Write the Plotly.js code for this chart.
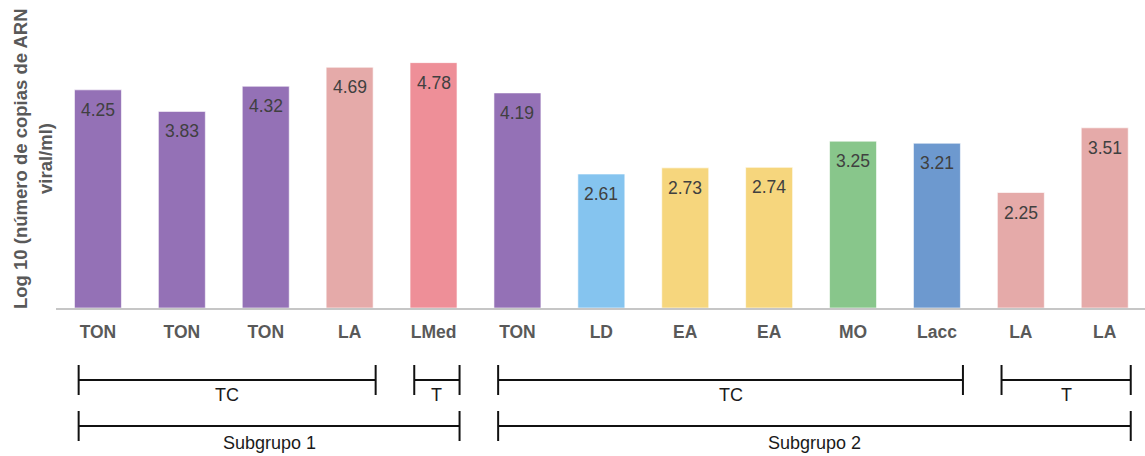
<!DOCTYPE html>
<html>
<head>
<meta charset="utf-8">
<script src="https://cdn.plot.ly/plotly-3.0.1.min.js"></script>
<style>html,body{margin:0;padding:0;background:#fff;}#chart{width:1145px;height:456px;}</style>
</head>
<body>
<div id="chart"></div>
<script>
// ---- data ----
const categories = ["TON","TON","TON","LA","LMed","TON","LD","EA","EA","MO","Lacc","LA","LA"];
const values = [4.25,3.83,4.32,4.69,4.78,4.19,2.61,2.73,2.74,3.25,3.21,2.25,3.51];
const barColors = ["#9471B6","#9471B6","#9471B6","#E5AAA9","#EE8F98","#9471B6","#85C4EF","#F6D67D","#F6D67D","#88C68B","#6D99CF","#E5AAA9","#E5AAA9"];
const yTitleLines = ["Log 10 (número de copias de ARN","viral/ml)"];
// brackets: label, first bar index, last bar index, row (0 = upper, 1 = lower)
const bracketLabels = ["TC","T","TC","T","Subgrupo 1","Subgrupo 2"];
const bracketStart = [0,4,5,11,0,5];
const bracketEnd = [3,4,10,12,4,12];
const bracketRow = [0,0,0,0,1,1];

// ---- layout helpers ----
const xIdx = categories.map((c,i)=>i);
const PH = 308; // plot height in px
const toPaper = py => (PH - py)/PH;
const rowLineY = [380, 426];
const rowLabelY = [395, 443];
const tickHalf = 15;
const FONT = "Liberation Sans, Arial, sans-serif";

const shapes = [];
const annotations = [];
bracketLabels.forEach((lab,k)=>{
  const x0 = bracketStart[k] - 0.23;
  const x1 = bracketEnd[k] + 0.31;
  const yl = rowLineY[bracketRow[k]];
  const ln = {color:"#111", width:2};
  shapes.push({type:"line", xref:"x", yref:"paper", x0:x0, x1:x1, y0:toPaper(yl), y1:toPaper(yl), line:ln});
  shapes.push({type:"line", xref:"x", yref:"paper", x0:x0, x1:x0, y0:toPaper(yl-tickHalf), y1:toPaper(yl+tickHalf), line:ln});
  shapes.push({type:"line", xref:"x", yref:"paper", x0:x1, x1:x1, y0:toPaper(yl-tickHalf), y1:toPaper(yl+tickHalf), line:ln});
  annotations.push({xref:"x", yref:"paper", x:(x0+x1)/2, y:toPaper(rowLabelY[bracketRow[k]]),
    text:lab, showarrow:false, xanchor:"center", yanchor:"middle",
    font:{family:FONT, size:18, color:"#1a1a1a"}});
});

// value labels inside top of bars
values.forEach((v,i)=>{
  annotations.push({xref:"x", yref:"y", x:xIdx[i], y:v, text:v.toFixed(2), showarrow:false,
    xanchor:"center", yanchor:"top", yshift:-8,
    font:{family:FONT, size:17.5, color:"#404040"}});
});

// y title (two lines)
const yTitleShift = [-36, -11];
yTitleLines.forEach((t,i)=>{
  annotations.push({xref:"paper", yref:"paper", x:0, y:0.5, xshift:yTitleShift[i], yshift:-5,
    text:"<b>"+t+"</b>", showarrow:false, textangle:-90, xanchor:"center", yanchor:"middle",
    font:{family:FONT, size:18.5, color:"#595959"}});
});

const trace = {
  type:"bar", x:xIdx, y:values, width:0.56,
  marker:{color:barColors, line:{color:"rgba(255,255,255,0.6)", width:1}},
  hoverinfo:"none"
};

const layout = {
  width:1145, height:456,
  margin:{l:56, r:0, t:0, b:148, pad:0},
  paper_bgcolor:"#fff", plot_bgcolor:"#fff",
  showlegend:false,
  xaxis:{range:[-0.5,12.48], tickvals:xIdx, ticktext:categories.map(c=>"<b>"+c+"</b>"),
    showgrid:false, zeroline:false, showline:true, linecolor:"#c6c6c6", linewidth:1.5,
    ticks:"", ticklabelstandoff:7,
    tickfont:{family:FONT, size:17.5, color:"#595959"}},
  yaxis:{range:[0,6], showgrid:false, zeroline:false, showline:false, showticklabels:false, ticks:""},
  shapes:shapes, annotations:annotations,
  font:{family:FONT}
};

Plotly.newPlot("chart",[trace],layout,{displayModeBar:false, staticPlot:true});
</script>
</body>
</html>
